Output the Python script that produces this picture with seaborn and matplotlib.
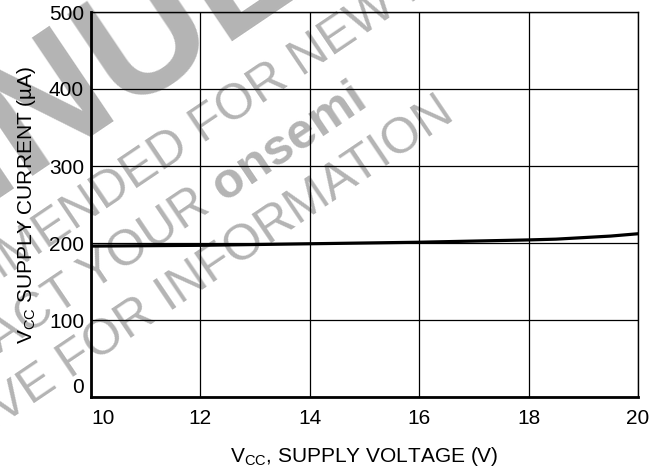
import numpy as np
import pandas as pd
import matplotlib
matplotlib.use("Agg")
import matplotlib.pyplot as plt
import seaborn as sns
from matplotlib.font_manager import FontProperties

# ---------------- data ----------------
voltage = [10, 11, 12, 13, 14, 15, 16, 17, 18, 18.5, 19, 19.5, 20]
current = [196, 196.5, 197, 198, 199, 200, 201, 202.5, 204, 205, 207, 209, 212]
x_ticks = [10, 12, 14, 16, 18, 20]
y_ticks = [0, 100, 200, 300, 400, 500]
x_label = "V$_{\\mathregular{CC}}$, SUPPLY VOLTAGE (V)"
y_label = "V$_{\\mathregular{CC}}$ SUPPLY CURRENT (\u00b5A)"
wm_big = "DISCONTINUED"
wm_line2 = "NOT RECOMMENDED FOR NEW DESIGN"
wm_line3a = "CONTACT YOUR"
wm_line3b = "onsemi"
wm_line4 = "REPRESENTATIVE FOR INFORMATION"

df = pd.DataFrame({"voltage": voltage, "current": current})

sns.set_theme(style="white")
FONT = "Liberation Sans"
plt.rcParams["font.family"] = [FONT, "DejaVu Sans"]
plt.rcParams["mathtext.fontset"] = "custom"
plt.rcParams["mathtext.rm"] = FONT

W, H = 666, 470
fig = plt.figure(figsize=(W / 100, H / 100), dpi=100, facecolor="white")
ax = fig.add_axes([91 / W, 1 - 397 / H, (638 - 91) / W, (397 - 12) / H])
ax.set_facecolor("none")

sns.lineplot(data=df, x="voltage", y="current", ax=ax, color="black",
             linewidth=2.3, zorder=5)

FS = 15
ax.set_xlim(10, 20)
ax.set_ylim(0, 500)
ax.set_xticks(x_ticks)
ax.set_yticks(y_ticks)
ax.set_xticklabels([str(t) for t in x_ticks])
ax.set_yticklabels([str(t) for t in y_ticks])
ax.grid(True, color="black", linewidth=0.9)
ax.tick_params(axis="both", length=0, labelsize=FS, colors="black")
ax.tick_params(axis="x", pad=9)
ax.tick_params(axis="y", pad=5)
ax.xaxis.get_major_ticks()[0].label1.set_horizontalalignment("left")
ax.yaxis.get_major_ticks()[0].label1.set_verticalalignment("bottom")

for side in ["left", "bottom"]:
    ax.spines[side].set_linewidth(2.0)
    ax.spines[side].set_color("black")
for side in ["top", "right"]:
    ax.spines[side].set_linewidth(1.0)
    ax.spines[side].set_color("black")
    ax.spines[side].set_visible(True)

ax.set_xlabel(x_label, fontsize=FS, color="black", labelpad=12)
ax.set_ylabel(y_label, fontsize=FS, color="black", labelpad=8)

# ---------------- watermark ----------------
ANG = 34.0
GRAY = "#b4b4b4"
c, s = np.cos(np.radians(ANG)), np.sin(np.radians(ANG))
renderer = fig.canvas.get_renderer()


def width(txt, size, weight="normal"):
    prop = FontProperties(family=FONT, size=size, weight=weight)
    w, h, d = renderer.get_text_width_height_descent(txt, prop, ismath=False)
    return w


def put(txt, px, py, size, weight="normal", ha="left"):
    fig.text(px / W, 1 - py / H, txt, rotation=ANG, rotation_mode="anchor",
             ha=ha, va="baseline", fontsize=size, fontweight=weight,
             color=GRAY, zorder=-5, family=FONT)


SZ = 36
BIG = 120
# line 1: big bold, anchored at centre of "U"
ux, uy = 172, 74
off = width("DISCONTIN", BIG, "bold") + 0.5 * width("U", BIG, "bold")
put(wm_big, ux - off * c, uy + off * s, BIG, "bold")
# line 2: "NEW" ends at (399, 12)
ex, ey = 399, 12
off = width("NOT RECOMMENDED FOR NEW", SZ)
put(wm_line2, ex - off * c, ey + off * s, SZ)
# line 3
ex, ey = 369, 104
put(wm_line3b, ex, ey, SZ, "bold", ha="right")
off = width(wm_line3b, SZ, "bold") + 0.3 * SZ * 100 / 72
put(wm_line3a, ex - off * c, ey + off * s, SZ, ha="right")
# line 4
put(wm_line4, 456, 118, SZ, ha="right")

fig.savefig("out.png", dpi=100, facecolor="white")
